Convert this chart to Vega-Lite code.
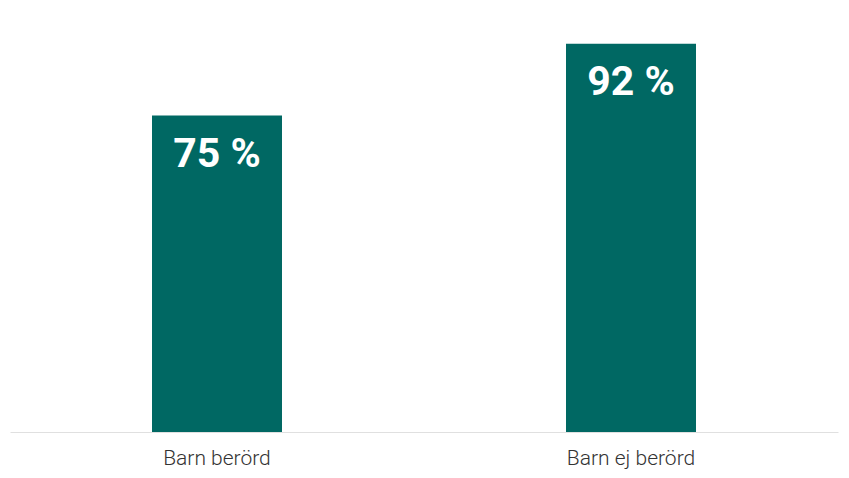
{
  "$schema": "https://vega.github.io/schema/vega-lite/v6.json",
  "autosize": {"type": "none"},
  "padding": {"left": 10, "top": 10, "right": 11, "bottom": 46},
  "width": 828,
  "height": 422,
  "config": {"view": {"stroke": null}, "font": "Roboto"},
  "data": {
    "values": [
      {"grupp": "Barn berörd", "andel": 75},
      {"grupp": "Barn ej berörd", "andel": 92}
    ]
  },
  "encoding": {
    "x": {
      "field": "grupp",
      "type": "nominal",
      "sort": null,
      "scale": {"paddingInner": 0.686, "paddingOuter": 0.343},
      "axis": {
        "title": null,
        "labelAngle": 0,
        "labelFontSize": 21,
        "labelFontWeight": 300,
        "labelColor": "#333333",
        "labelPadding": 15,
        "ticks": false,
        "domainColor": "#e0e0e0",
        "domainWidth": 1
      }
    },
    "y": {
      "field": "andel",
      "type": "quantitative",
      "scale": {"domain": [0, 100]},
      "axis": null
    }
  },
  "layer": [
    {"mark": {"type": "bar", "color": "#006863"}},
    {
      "transform": [{"calculate": "datum.andel + ' %'", "as": "etikett"}],
      "mark": {
        "type": "text",
        "color": "white",
        "fontSize": 41,
        "fontWeight": "bold",
        "baseline": "alphabetic",
        "dy": 51
      },
      "encoding": {"text": {"field": "etikett", "type": "nominal"}}
    }
  ]
}
